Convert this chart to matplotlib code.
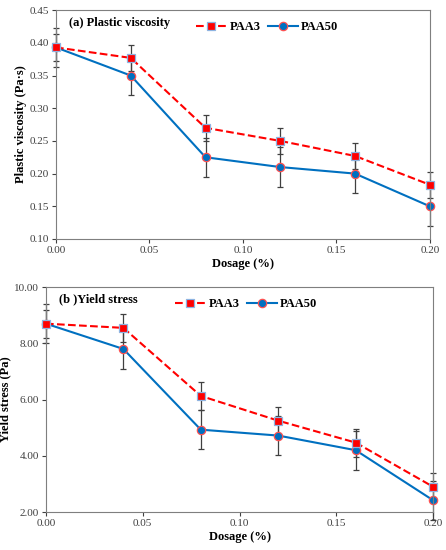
import matplotlib
matplotlib.use("Agg")
import matplotlib.pyplot as plt

dosage = [0.00, 0.04, 0.08, 0.12, 0.16, 0.20]

visc_paa3 = [0.393, 0.377, 0.270, 0.250, 0.227, 0.183]
visc_paa50 = [0.393, 0.350, 0.225, 0.210, 0.200, 0.150]
visc_err_paa3 = [0.02, 0.02, 0.02, 0.02, 0.02, 0.02]
visc_err_paa50 = [0.03, 0.03, 0.03, 0.03, 0.03, 0.03]

yield_paa3 = [8.70, 8.55, 6.13, 5.25, 4.47, 2.90]
yield_paa50 = [8.70, 7.80, 4.93, 4.72, 4.20, 2.42]
yield_err_paa3 = [0.5, 0.5, 0.5, 0.5, 0.5, 0.5]
yield_err_paa50 = [0.7, 0.7, 0.7, 0.7, 0.7, 0.7]

plt.rcParams['font.family'] = ['Liberation Serif', 'DejaVu Serif']

red = '#FF0000'
blue = '#0070C0'
edge_blue = '#8DB4E2'
edge_red = '#FF5050'

fig = plt.figure(figsize=(4.46, 5.5), dpi=100)
ax1 = fig.add_axes([0.1256, 0.5655, 0.838, 0.416])
ax2 = fig.add_axes([0.103, 0.069, 0.868, 0.409])


def draw(ax, y3, e3, y50, e50, title, ylabel, ylim, yticks, leg_x):
    for y, e in ((y3, e3), (y50, e50)):
        eb = ax.errorbar(dosage, y, yerr=e, fmt='none', ecolor='#404040',
                         elinewidth=0.9, capsize=2.5, capthick=0.9, zorder=1)
        for art in eb.lines[1] + eb.lines[2]:
            art.set_clip_on(False)
    ax.plot(dosage, y3, color=red, linestyle='--', linewidth=1.5,
            marker='s', markersize=6, markerfacecolor=red,
            markeredgecolor=edge_blue, markeredgewidth=0.9,
            label='PAA3', zorder=3, clip_on=False)
    ax.plot(dosage, y50, color=blue, linestyle='-', linewidth=1.5,
            marker='o', markersize=6, markerfacecolor=blue,
            markeredgecolor=edge_red, markeredgewidth=0.9,
            label='PAA50', zorder=2, clip_on=False)
    ax.set_xlim(0, 0.20)
    ax.set_ylim(*ylim)
    ax.set_xticks([0.00, 0.05, 0.10, 0.15, 0.20])
    ax.set_xticklabels(['0.00', '0.05', '0.10', '0.15', '0.20'])
    ax.set_yticks(yticks)
    ax.set_yticklabels(['{:.2f}'.format(v) for v in yticks])
    ax.tick_params(labelsize=8, colors='#404040', length=3, width=0.8,
                   direction='out', pad=2)
    for s in ax.spines.values():
        s.set_color('#7F7F7F')
        s.set_linewidth(0.8)
    ax.set_xlabel('Dosage (%)', fontsize=9, fontweight='bold', labelpad=2)
    ax.set_ylabel(ylabel, fontsize=9, fontweight='bold', labelpad=2)
    ax.text(0.035, 0.945, title, transform=ax.transAxes, fontsize=9,
            fontweight='bold', va='center', ha='left')
    ax.legend(loc='center left', bbox_to_anchor=(leg_x, 0.925), ncol=2,
              frameon=False, handlelength=2.4, handletextpad=0.25,
              columnspacing=0.6, prop={'weight': 'bold', 'size': 9})


draw(ax1, visc_paa3, visc_err_paa3, visc_paa50, visc_err_paa50,
     '(a) Plastic viscosity', 'Plastic viscosity (Pa\u00b7s)',
     (0.10, 0.45), [0.10, 0.15, 0.20, 0.25, 0.30, 0.35, 0.40, 0.45], 0.345)
draw(ax2, yield_paa3, yield_err_paa3, yield_paa50, yield_err_paa50,
     '(b )Yield stress', 'Yield stress (Pa)',
     (2.0, 10.0), [2.0, 4.0, 6.0, 8.0, 10.0], 0.305)

fig.savefig('out.png', dpi=100)
